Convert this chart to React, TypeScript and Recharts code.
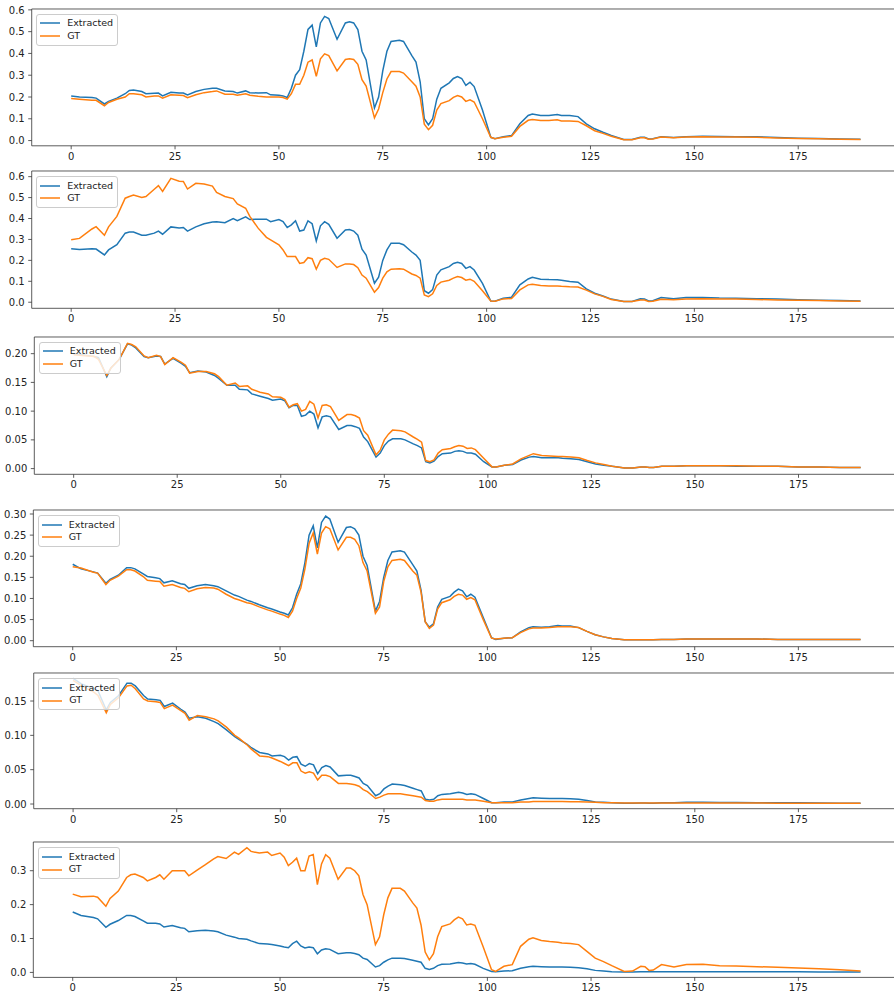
import { LineChart, Line, XAxis, YAxis, Legend, ReferenceLine } from 'recharts'

// sample positions (frame index) shared by every panel
const X = [
  0, 2, 5, 6, 8, 9, 11, 13, 14, 15,
  17, 18, 20, 21, 22, 24, 26, 27, 28, 30,
  32, 34, 35, 37, 39, 40, 42, 43, 45, 47,
  48, 50, 51, 52, 53, 54, 55, 56, 57, 58,
  59, 60, 61, 62, 64, 66, 67, 68, 69, 70,
  71, 73, 74, 75, 76, 77, 79, 80, 82, 83,
  84, 85, 86, 87, 88, 89, 91, 92, 93, 94,
  95, 96, 97, 99, 101, 102, 104, 106, 108, 110,
  111, 113, 115, 117, 118, 120, 122, 124, 126, 128,
  130, 133, 135, 137, 138, 139, 140, 142, 145, 148,
  152, 156, 160, 165, 170, 175, 180, 185, 190
]

const EXT1 = [
  0.205, 0.2, 0.198, 0.195, 0.168, 0.18, 0.195, 0.215, 0.23, 0.232,
  0.225, 0.215, 0.217, 0.218, 0.205, 0.222, 0.218, 0.218, 0.21, 0.225,
  0.235, 0.24, 0.24, 0.228, 0.225, 0.218, 0.228, 0.22, 0.218, 0.22,
  0.21, 0.208, 0.205, 0.198, 0.24, 0.3, 0.325, 0.41, 0.51, 0.53,
  0.43, 0.54, 0.57, 0.56, 0.465, 0.54, 0.545, 0.54, 0.51, 0.41,
  0.37, 0.15, 0.2, 0.32, 0.41, 0.455, 0.46, 0.455, 0.39, 0.36,
  0.27, 0.1, 0.072, 0.1, 0.19, 0.24, 0.265, 0.285, 0.294, 0.285,
  0.253, 0.268, 0.248, 0.14, 0.015, 0.008, 0.018, 0.023, 0.077, 0.115,
  0.122, 0.115, 0.115, 0.12, 0.115, 0.115, 0.11, 0.077, 0.054, 0.038,
  0.023, 0.005, 0.005, 0.015, 0.015, 0.007, 0.008, 0.018, 0.014, 0.018,
  0.02, 0.019, 0.018, 0.017, 0.014, 0.011, 0.009, 0.007, 0.006
]
const GT1 = [
  0.193, 0.19, 0.185, 0.185, 0.16, 0.175, 0.19, 0.2, 0.215, 0.215,
  0.21, 0.2, 0.205, 0.205, 0.195, 0.21, 0.208, 0.207, 0.197, 0.21,
  0.22, 0.225, 0.228, 0.213, 0.213, 0.208, 0.215, 0.208, 0.203, 0.2,
  0.2, 0.2, 0.198, 0.19, 0.215, 0.258, 0.258, 0.3, 0.36, 0.37,
  0.295, 0.375, 0.398, 0.39, 0.32, 0.372, 0.375, 0.372, 0.35, 0.28,
  0.25, 0.104, 0.145, 0.22, 0.283, 0.317, 0.317, 0.31, 0.27, 0.25,
  0.2, 0.075, 0.05, 0.07, 0.14, 0.17, 0.183, 0.198, 0.207, 0.2,
  0.18, 0.187, 0.177, 0.1, 0.015, 0.008, 0.015, 0.02, 0.065, 0.093,
  0.097, 0.092, 0.092, 0.095, 0.09, 0.09, 0.088, 0.068, 0.045, 0.033,
  0.02, 0.004, 0.004, 0.013, 0.013, 0.006, 0.007, 0.016, 0.013, 0.016,
  0.017, 0.016, 0.016, 0.015, 0.012, 0.01, 0.008, 0.006, 0.005
]

const EXT2 = [
  0.255, 0.252, 0.255, 0.254, 0.226, 0.25, 0.275, 0.33, 0.335, 0.335,
  0.32, 0.32, 0.33, 0.34, 0.325, 0.36, 0.355, 0.357, 0.34, 0.36,
  0.375, 0.383, 0.385, 0.38, 0.4, 0.39, 0.408, 0.395, 0.397, 0.397,
  0.385, 0.395, 0.385, 0.357, 0.37, 0.389, 0.34, 0.345, 0.389, 0.375,
  0.293, 0.365, 0.385, 0.372, 0.306, 0.345, 0.347, 0.34, 0.32, 0.253,
  0.225, 0.091, 0.12, 0.2, 0.25, 0.282, 0.282, 0.275, 0.24, 0.225,
  0.2, 0.055, 0.043, 0.06, 0.13, 0.155, 0.17, 0.185, 0.191, 0.185,
  0.162, 0.17, 0.154, 0.09, 0.006, 0.005, 0.019, 0.024, 0.083, 0.111,
  0.119, 0.11, 0.108, 0.107, 0.105, 0.099, 0.096, 0.064, 0.043, 0.03,
  0.015, 0.003, 0.004, 0.016, 0.015, 0.006, 0.007, 0.022, 0.017, 0.022,
  0.023, 0.02, 0.019, 0.017, 0.015, 0.012, 0.01, 0.008, 0.006
]
const GT2 = [
  0.298, 0.305, 0.35, 0.361, 0.32, 0.36, 0.41, 0.497, 0.505, 0.512,
  0.5, 0.505, 0.54, 0.557, 0.529, 0.592, 0.578, 0.577, 0.541, 0.568,
  0.565, 0.555, 0.525, 0.505, 0.495, 0.47, 0.449, 0.41, 0.354, 0.31,
  0.298, 0.274, 0.25, 0.218, 0.218, 0.218, 0.185, 0.19, 0.213, 0.208,
  0.158, 0.2, 0.21, 0.205, 0.166, 0.183, 0.183, 0.18, 0.165, 0.13,
  0.115, 0.048, 0.07, 0.115, 0.145, 0.158, 0.16, 0.158, 0.135, 0.128,
  0.115, 0.035, 0.027, 0.04, 0.08, 0.096, 0.105, 0.115, 0.123, 0.118,
  0.105, 0.11, 0.1, 0.055, 0.006, 0.005, 0.016, 0.018, 0.059, 0.083,
  0.086, 0.08, 0.078, 0.078, 0.076, 0.074, 0.073, 0.058, 0.04, 0.028,
  0.013, 0.003, 0.003, 0.011, 0.011, 0.004, 0.005, 0.014, 0.012, 0.016,
  0.017, 0.015, 0.015, 0.013, 0.011, 0.009, 0.008, 0.006, 0.005
]

const EXT3 = [
  0.2, 0.198, 0.195, 0.193, 0.16, 0.175, 0.19, 0.217, 0.215, 0.21,
  0.195, 0.193, 0.196, 0.195, 0.182, 0.192, 0.183, 0.178, 0.167, 0.17,
  0.168, 0.162, 0.157, 0.145, 0.145, 0.138, 0.137, 0.13, 0.126, 0.122,
  0.119, 0.121, 0.118, 0.106, 0.11, 0.11, 0.091, 0.093, 0.1, 0.095,
  0.071, 0.09, 0.092, 0.09, 0.068, 0.075, 0.075, 0.073, 0.07, 0.055,
  0.047, 0.02, 0.027, 0.04, 0.048, 0.052, 0.052, 0.05, 0.043, 0.04,
  0.036, 0.012, 0.01, 0.013, 0.021, 0.026, 0.027, 0.03, 0.031, 0.03,
  0.027, 0.027, 0.025, 0.012, 0.003, 0.003, 0.006, 0.007, 0.015, 0.02,
  0.021, 0.019, 0.019, 0.019, 0.018, 0.017, 0.016, 0.012, 0.008, 0.006,
  0.004, 0.001, 0.001, 0.003, 0.003, 0.002, 0.002, 0.004, 0.004, 0.005,
  0.005, 0.005, 0.004, 0.004, 0.004, 0.003, 0.003, 0.002, 0.002
]
const GT3 = [
  0.198, 0.197, 0.195, 0.19, 0.162, 0.175, 0.19, 0.218, 0.216, 0.212,
  0.196, 0.193, 0.197, 0.195, 0.181, 0.193, 0.185, 0.18, 0.166, 0.169,
  0.169, 0.165, 0.16, 0.145, 0.149, 0.143, 0.144, 0.138, 0.133, 0.13,
  0.125, 0.124, 0.12, 0.107, 0.111, 0.113, 0.1, 0.103, 0.117, 0.112,
  0.088, 0.11, 0.111, 0.108, 0.084, 0.094, 0.094, 0.092, 0.088, 0.066,
  0.058, 0.024, 0.032, 0.05, 0.06, 0.067, 0.066, 0.064, 0.055, 0.051,
  0.046, 0.014, 0.012, 0.015, 0.027, 0.033, 0.035, 0.038, 0.04, 0.039,
  0.035, 0.036, 0.033, 0.018, 0.003, 0.003, 0.006, 0.008, 0.017, 0.023,
  0.026, 0.023, 0.022, 0.021, 0.021, 0.02, 0.019, 0.014, 0.01, 0.007,
  0.004, 0.001, 0.001, 0.003, 0.003, 0.002, 0.002, 0.004, 0.004, 0.005,
  0.005, 0.005, 0.005, 0.004, 0.004, 0.003, 0.003, 0.002, 0.002
]

const EXT4 = [
  0.181, 0.17, 0.163, 0.16, 0.136, 0.145, 0.155, 0.173, 0.173, 0.17,
  0.158, 0.152, 0.149, 0.147, 0.137, 0.142, 0.135, 0.133, 0.124, 0.13,
  0.133, 0.13, 0.128, 0.118, 0.108, 0.105, 0.096, 0.093, 0.085, 0.078,
  0.075, 0.068, 0.065, 0.061, 0.078, 0.11, 0.135, 0.185, 0.25, 0.272,
  0.22, 0.28, 0.295, 0.288, 0.233, 0.268, 0.27, 0.265, 0.25, 0.2,
  0.178, 0.07, 0.093, 0.15, 0.19, 0.21, 0.213, 0.21, 0.18, 0.165,
  0.12, 0.045, 0.032, 0.04, 0.08, 0.098, 0.105, 0.115, 0.122, 0.118,
  0.104, 0.11, 0.103, 0.055, 0.007, 0.003, 0.006, 0.007, 0.021, 0.031,
  0.033, 0.032, 0.033, 0.036, 0.035, 0.035, 0.031, 0.022, 0.014, 0.009,
  0.005, 0.002, 0.002, 0.002, 0.002, 0.002, 0.002, 0.003, 0.003, 0.004,
  0.004, 0.004, 0.004, 0.004, 0.003, 0.003, 0.003, 0.003, 0.003
]
const GT4 = [
  0.175, 0.172, 0.162, 0.16, 0.133, 0.143, 0.153, 0.168, 0.168, 0.165,
  0.152, 0.143, 0.141, 0.14, 0.129, 0.133, 0.126, 0.124, 0.116, 0.123,
  0.126, 0.125, 0.122, 0.11, 0.1, 0.097, 0.09, 0.088, 0.08, 0.073,
  0.07, 0.063, 0.06, 0.055, 0.07, 0.1, 0.125, 0.17, 0.23, 0.255,
  0.205, 0.255, 0.27, 0.265, 0.215, 0.245, 0.245, 0.24, 0.225, 0.185,
  0.165, 0.065, 0.08, 0.14, 0.175, 0.19, 0.193, 0.19, 0.165, 0.155,
  0.115, 0.045, 0.029, 0.037, 0.075, 0.09, 0.097, 0.105, 0.11, 0.108,
  0.098, 0.102, 0.097, 0.05, 0.006, 0.004, 0.006, 0.007, 0.019, 0.028,
  0.03, 0.03, 0.031, 0.033, 0.033, 0.033, 0.031, 0.022, 0.014, 0.009,
  0.005, 0.002, 0.002, 0.002, 0.002, 0.002, 0.002, 0.003, 0.003, 0.004,
  0.004, 0.004, 0.004, 0.004, 0.003, 0.003, 0.003, 0.003, 0.003
]

const EXT5 = [
  0.183, 0.175, 0.168, 0.165, 0.137, 0.148, 0.158, 0.176, 0.176, 0.172,
  0.158, 0.153, 0.152, 0.151, 0.142, 0.147, 0.138, 0.134, 0.125, 0.127,
  0.125, 0.12, 0.117, 0.108, 0.098, 0.094, 0.087, 0.082, 0.075, 0.073,
  0.07, 0.071, 0.069, 0.064, 0.068, 0.069, 0.058, 0.055, 0.059, 0.057,
  0.044, 0.053, 0.056, 0.054, 0.041, 0.042, 0.042, 0.04, 0.038, 0.03,
  0.027, 0.012, 0.015, 0.022, 0.026, 0.029, 0.028, 0.027, 0.023, 0.021,
  0.019, 0.007, 0.006, 0.007, 0.012, 0.014, 0.015, 0.016, 0.017, 0.016,
  0.014, 0.015, 0.014, 0.008, 0.002, 0.002, 0.003, 0.003, 0.006, 0.008,
  0.009, 0.0085, 0.008, 0.008, 0.008, 0.0075, 0.007, 0.005, 0.003, 0.0025,
  0.002, 0.001, 0.001, 0.0015, 0.0015, 0.001, 0.001, 0.002, 0.002, 0.0025,
  0.0025, 0.0022, 0.0022, 0.002, 0.002, 0.0018, 0.0015, 0.0013, 0.0012
]
const GT5 = [
  0.18, 0.172, 0.163, 0.158, 0.133, 0.145, 0.155, 0.172, 0.173, 0.168,
  0.153, 0.15, 0.149, 0.148, 0.139, 0.144, 0.136, 0.132, 0.122, 0.129,
  0.127, 0.124, 0.121, 0.112, 0.1, 0.096, 0.086, 0.08, 0.07, 0.069,
  0.067, 0.062, 0.059, 0.056, 0.06, 0.06, 0.048, 0.045, 0.047, 0.045,
  0.035, 0.042, 0.042, 0.04, 0.03, 0.03, 0.029, 0.028, 0.026, 0.021,
  0.018, 0.008, 0.01, 0.013, 0.015, 0.015, 0.015, 0.014, 0.012, 0.011,
  0.01, 0.005, 0.004, 0.004, 0.006, 0.007, 0.007, 0.007, 0.007, 0.007,
  0.006, 0.006, 0.006, 0.004, 0.002, 0.002, 0.002, 0.002, 0.003, 0.003,
  0.0035, 0.0035, 0.0035, 0.0035, 0.0035, 0.0033, 0.0032, 0.003, 0.0025, 0.002,
  0.002, 0.0015, 0.0015, 0.0015, 0.0015, 0.0015, 0.0015, 0.0015, 0.0015, 0.0015,
  0.0015, 0.0015, 0.0015, 0.0014, 0.0013, 0.0012, 0.0012, 0.0011, 0.001
]

const EXT6 = [
  0.178, 0.168, 0.162, 0.158, 0.133, 0.142, 0.153, 0.168, 0.168, 0.165,
  0.152, 0.145, 0.145, 0.143, 0.134, 0.138, 0.132, 0.13, 0.12, 0.123,
  0.124, 0.122, 0.12, 0.11, 0.104, 0.1, 0.098, 0.093, 0.085, 0.084,
  0.082, 0.078, 0.075, 0.073, 0.085, 0.092, 0.078, 0.072, 0.075, 0.073,
  0.055, 0.066, 0.07, 0.068, 0.055, 0.058, 0.058, 0.056, 0.052, 0.042,
  0.038, 0.016, 0.02, 0.03, 0.037, 0.042, 0.042, 0.041, 0.036, 0.033,
  0.03, 0.012, 0.009, 0.012, 0.02, 0.024, 0.025, 0.027, 0.029, 0.028,
  0.025, 0.026, 0.024, 0.012, 0.003, 0.002, 0.004, 0.005, 0.012, 0.017,
  0.018, 0.017, 0.016, 0.016, 0.016, 0.015, 0.014, 0.011, 0.006, 0.004,
  0.002, 0.001, 0.001, 0.002, 0.002, 0.002, 0.002, 0.002, 0.002, 0.002,
  0.002, 0.002, 0.002, 0.002, 0.002, 0.002, 0.001, 0.001, 0.001
]
const GT6 = [
  0.231, 0.223, 0.225, 0.222, 0.195, 0.218, 0.24, 0.28, 0.288, 0.29,
  0.28, 0.27, 0.28, 0.288, 0.275, 0.3, 0.3, 0.3, 0.285, 0.302,
  0.318, 0.335, 0.342, 0.336, 0.355, 0.348, 0.368, 0.357, 0.352, 0.355,
  0.345, 0.352, 0.34, 0.315, 0.325, 0.337, 0.3, 0.3, 0.343, 0.348,
  0.259, 0.32, 0.347, 0.337, 0.275, 0.308, 0.308, 0.3, 0.285, 0.23,
  0.2, 0.082, 0.105, 0.17, 0.22, 0.248, 0.248, 0.24, 0.205, 0.19,
  0.14, 0.06, 0.037, 0.055, 0.105, 0.135, 0.143, 0.155, 0.163, 0.158,
  0.14, 0.143, 0.139, 0.075, 0.008, 0.003, 0.018, 0.023, 0.077, 0.098,
  0.102, 0.094, 0.091, 0.089, 0.087, 0.085, 0.082, 0.062, 0.042, 0.032,
  0.02, 0.003, 0.004, 0.018, 0.017, 0.006, 0.007, 0.023, 0.016, 0.023,
  0.024, 0.02, 0.019, 0.017, 0.015, 0.013, 0.011, 0.008, 0.004
]

const X_TICKS = [0, 25, 50, 75, 100, 125, 150, 175]
const TICKS_01_06 = [0, 0.1, 0.2, 0.3, 0.4, 0.5, 0.6]
const TICKS_005_020 = [0, 0.05, 0.1, 0.15, 0.2]
const TICKS_005_030 = [0, 0.05, 0.1, 0.15, 0.2, 0.25, 0.3]
const TICKS_005_015 = [0, 0.05, 0.1, 0.15]
const TICKS_01_03 = [0, 0.1, 0.2, 0.3]

const BLUE = '#1f77b4'
const ORANGE = '#ff7f0e'
const FONT = '"DejaVu Sans", sans-serif'
const AXIS = '#333'

// top/bottom/left are the plot-frame edges in page pixels
const panels = [
  { ext: EXT1, gt: GT1, domain: [-0.024, 0.604], ticks: TICKS_01_06, digits: 1, top: 8.5, bottom: 145.3, left: 31.7 },
  { ext: EXT2, gt: GT2, domain: [-0.029, 0.627], ticks: TICKS_01_06, digits: 1, top: 171, bottom: 308.3, left: 31.7 },
  { ext: EXT3, gt: GT3, domain: [-0.0099, 0.229], ticks: TICKS_005_020, digits: 2, top: 336.7, bottom: 474, left: 34.3 },
  { ext: EXT4, gt: GT4, domain: [-0.0142, 0.3095], ticks: TICKS_005_030, digits: 2, top: 510, bottom: 646.7, left: 33.3 },
  { ext: EXT5, gt: GT5, domain: [-0.0068, 0.1908], ticks: TICKS_005_015, digits: 2, top: 673.3, bottom: 809, left: 33.7 },
  { ext: EXT6, gt: GT6, domain: [-0.0147, 0.3847], ticks: TICKS_01_03, digits: 1, top: 842.3, bottom: 977.7, left: 33.3 }
]

const PAD_TOP = 4
const XAXIS_H = 20
const CHART_W = 900

function LegendBox({ payload }: any) {
  return (
    <div
      style={{
        background: 'rgba(255,255,255,0.8)',
        border: '1px solid #cccccc',
        borderRadius: 3,
        padding: '2.5px 4px 2.5px 3px',
        fontFamily: FONT,
        fontSize: 9.5,
        color: '#222',
        lineHeight: '12.5px'
      }}
    >
      {(payload || []).map((p: any) => (
        <div key={p.value} style={{ display: 'flex', alignItems: 'center', whiteSpace: 'nowrap' }}>
          <svg width={20} height={4} style={{ marginRight: 7, display: 'block' }}>
            <line x1={0} y1={2} x2={20} y2={2} stroke={p.color} strokeWidth={1.5} />
          </svg>
          {p.value}
        </div>
      ))}
    </div>
  )
}

function Panel({ p }: { p: (typeof panels)[number] }) {
  const rows = X.map((x, i) => ({ x, extracted: p.ext[i], gt: p.gt[i] }))
  const plotH = p.bottom - p.top
  const tickStyle = { fontFamily: FONT, fontSize: 10, fill: '#222' }

  return (
    <div style={{ position: 'absolute', left: 0, top: p.top - PAD_TOP }}>
      <LineChart
        width={CHART_W}
        height={plotH + PAD_TOP + XAXIS_H}
        data={rows}
        margin={{ top: PAD_TOP, right: 0, left: 0, bottom: 0 }}
      >
        <XAxis
          dataKey="x"
          type="number"
          domain={[-9.5, 199.5]}
          ticks={X_TICKS}
          allowDataOverflow
          height={XAXIS_H}
          tick={tickStyle}
          tickSize={3.5}
          tickMargin={3.5}
          axisLine={{ stroke: AXIS, strokeWidth: 0.8 }}
          tickLine={{ stroke: AXIS, strokeWidth: 0.8 }}
        />
        <YAxis
          type="number"
          domain={p.domain}
          ticks={p.ticks}
          allowDataOverflow
          width={p.left}
          tick={tickStyle}
          tickSize={3.5}
          tickMargin={3.5}
          tickFormatter={(v: number) => v.toFixed(p.digits)}
          axisLine={{ stroke: AXIS, strokeWidth: 0.8 }}
          tickLine={{ stroke: AXIS, strokeWidth: 0.8 }}
        />
        {/* top frame edge */}
        <ReferenceLine y={p.domain[1]} stroke={AXIS} strokeWidth={0.8} />
        <Legend
          layout="horizontal"
          verticalAlign="middle"
          align="center"
          content={<LegendBox />}
          wrapperStyle={{ top: PAD_TOP + 5, left: p.left + 4.5, width: 'auto', height: 'auto' }}
        />
        <Line
          type="linear"
          dataKey="extracted"
          name="Extracted"
          stroke={BLUE}
          strokeWidth={1.5}
          dot={false}
          isAnimationActive={false}
        />
        <Line
          type="linear"
          dataKey="gt"
          name="GT"
          stroke={ORANGE}
          strokeWidth={1.5}
          dot={false}
          isAnimationActive={false}
        />
      </LineChart>
    </div>
  )
}

export default function App() {
  return (
    <div
      style={{
        position: 'absolute',
        left: 0,
        top: 0,
        width: 894,
        height: 997,
        overflow: 'hidden',
        background: '#fff'
      }}
    >
      {panels.map((p, i) => (
        <Panel key={i} p={p} />
      ))}
    </div>
  )
}
